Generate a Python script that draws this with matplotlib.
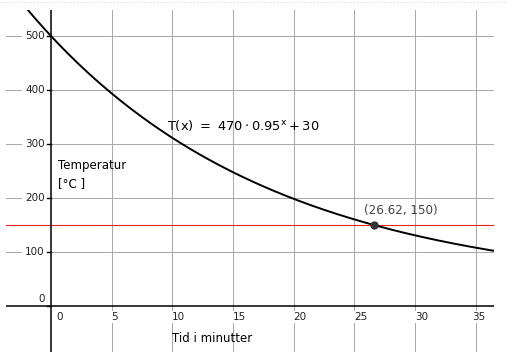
import numpy as np
import matplotlib.pyplot as plt

# data
a, b, c = 470, 0.95, 30
x_ticks = [0, 5, 10, 15, 20, 25, 30, 35]
y_ticks = [0, 100, 200, 300, 400, 500]
target_temp = 150
point = (26.62, 150)

fig = plt.figure(figsize=(5.07, 3.62), dpi=100)
ax = fig.add_axes([6 / 507, 10 / 362, 488 / 507, 342 / 362])
xmin, xmax = -3.7, 36.5
ymin, ymax = -85, 548
ax.set_xlim(xmin, xmax)
ax.set_ylim(ymin, ymax)
ax.set_axis_off()

# faint dotted border at the top
fig.add_artist(plt.Line2D([0, 1], [1 - 1.5 / 362] * 2, color='#d8d8d8', lw=0.8,
                          ls=(0, (1, 2)), transform=fig.transFigure))

grid = '#aaaaaa'
for xt in x_ticks[1:]:
    ax.axvline(xt, color=grid, lw=0.75, zorder=1)
for yt in y_ticks[1:]:
    ax.axhline(yt, color=grid, lw=0.75, zorder=1)

# axes lines
ax.axhline(0, color='black', lw=1.1, zorder=5)
ax.axvline(0, color='black', lw=1.1, zorder=5)

fs = 7.5
for xt in x_ticks:
    dx = 0.45 if xt == 0 else (-0.3 if xt == x_ticks[-1] else 0.0)
    ax.text(xt + dx, -11, str(xt), ha='left', va='top',
            fontsize=fs, color='#222222', zorder=4,
            bbox=dict(facecolor='white', edgecolor='none', pad=1.0))
for yt in y_ticks:
    ax.plot([-0.3, 0], [yt, yt], color='black', lw=1, zorder=5)
    ax.text(-0.5, yt + 4 if yt == 0 else yt, str(yt), ha='right',
            va='bottom' if yt == 0 else 'center',
            fontsize=fs, color='#222222', zorder=4,
            bbox=dict(facecolor='white', edgecolor='none', pad=2.5))

# horizontal line T = 150
ax.axhline(target_temp, color='#e8251e', lw=0.8, zorder=2)

# curve
xs = np.linspace(xmin, xmax, 400)
ax.plot(xs, a * b ** xs + c, color='black', lw=1.4, zorder=6)

# intersection point
ax.plot(point[0], point[1], 'o', ms=5, color='#333333', zorder=7)
ax.text(point[0] - 0.85, point[1] + 14, f'({point[0]}, {point[1]})', fontsize=8.6,
        color='#444444', ha='left', va='bottom', zorder=7)

ax.text(9.6, 335, r'$\mathregular{T(x)\ =\ 470 \cdot 0.95^{x} + 30}$', fontsize=9.4,
        ha='left', va='center', zorder=7)

ax.text(0.6, 244, 'Temperatur\n[°C ]', fontsize=8.5, ha='left', va='center',
        linespacing=1.5, zorder=7)
ax.text(10.0, -60, 'Tid i minutter', fontsize=8.5, ha='left', va='center', zorder=7)

fig.savefig('out.png', dpi=100)
